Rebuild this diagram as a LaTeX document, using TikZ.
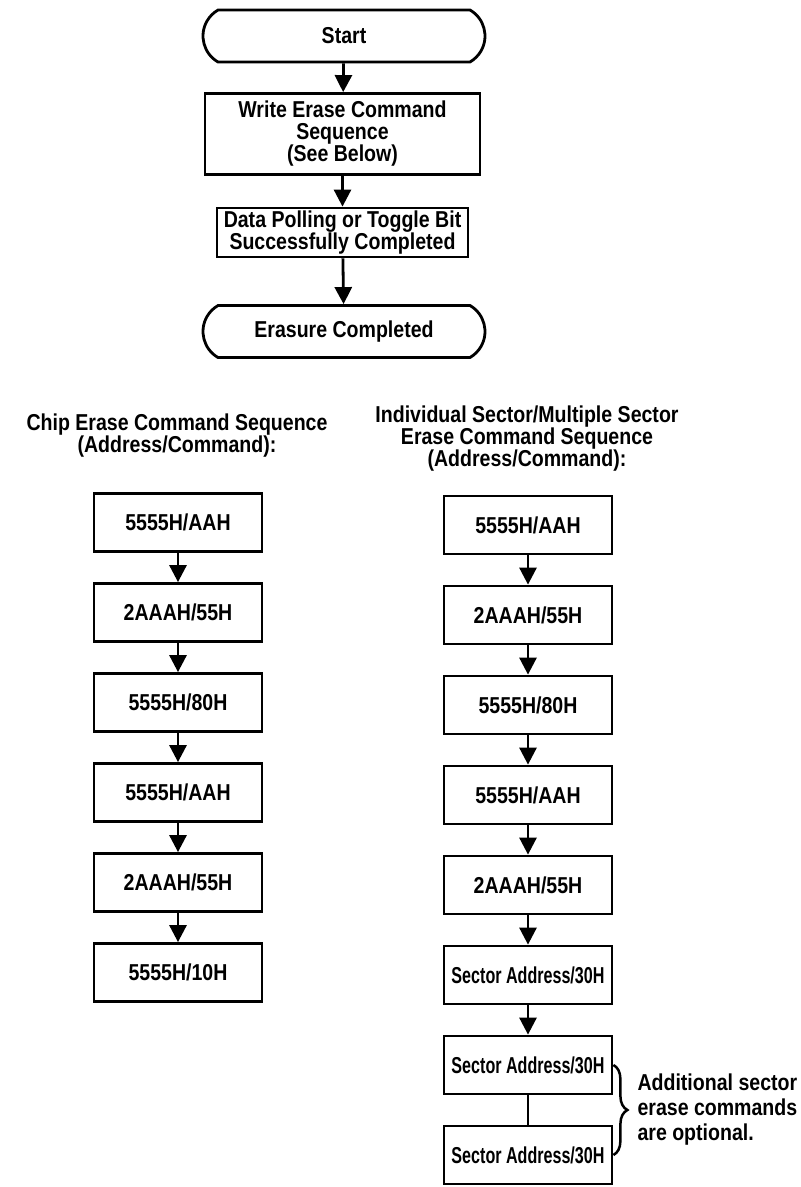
\documentclass[tikz,border=0pt]{standalone}
\usepackage{fontspec}
\setmainfont[FakeStretch=0.85]{Liberation Sans}
\newfontfamily\narrowfont[FakeStretch=0.7]{Liberation Sans}
\usetikzlibrary{shapes.misc,arrows.meta,decorations.pathreplacing}

\begin{document}
\begin{tikzpicture}[
    x=1pt, y=-1pt,
    every node/.style={font=\fontsize{23}{22}\selectfont\bfseries},
    terminal/.style={rounded rectangle, rounded rectangle arc length=120, draw, line width=2.8pt, minimum width=282pt, minimum height=52pt, inner sep=0pt},
    block/.style={rectangle, draw, line width=2.8pt, align=center, inner sep=0pt},
    cmd/.style={block, minimum width=168pt, minimum height=58pt},
    sector/.style={cmd, font=\narrowfont\fontsize{23}{22}\selectfont\bfseries},
    heading/.style={align=center},
    line/.style={draw, line width=2.8pt, -{Triangle[length=17pt,width=17pt]}},
    link/.style={draw, line width=2.8pt}
]
    \useasboundingbox (0,0) rectangle (801,1187);

    % main flow
    \node [terminal] (start) at (344,36) {Start};
    \node [block, minimum width=275pt, minimum height=81pt] (write) at (342.5,134) {Write Erase Command\\Sequence\\(See Below)};
    \node [block, minimum width=251pt, minimum height=49pt] (poll) at (342.5,232.5) {Data Polling or Toggle Bit\\Successfully Completed};
    \node [terminal] (done) at (344,331.5) {Erasure Completed};

    \draw [line] (start) -- (write);
    \draw [line] (write) -- (poll);
    \draw [line] (poll) -- (done);

    % headings
    \node [heading] (chiphead) at (177,436) {Chip Erase Command Sequence\\(Address/Command):};
    \node [heading] (sectorhead) at (527,439) {Individual Sector/Multiple Sector\\Erase Command Sequence\\(Address/Command):};

    % chip erase
    \node [cmd] (c1) at (178,522.5) {5555H/AAH};
    \node [cmd] (c2) at (178,612.5) {2AAAH/55H};
    \node [cmd] (c3) at (178,702.5) {5555H/80H};
    \node [cmd] (c4) at (178,792.5) {5555H/AAH};
    \node [cmd] (c5) at (178,882.5) {2AAAH/55H};
    \node [cmd] (c6) at (178,972.5) {5555H/10H};

    \draw [line] (c1) -- (c2);
    \draw [line] (c2) -- (c3);
    \draw [line] (c3) -- (c4);
    \draw [line] (c4) -- (c5);
    \draw [line] (c5) -- (c6);

    % sector erase
    \node [cmd] (s1) at (528,525) {5555H/AAH};
    \node [cmd] (s2) at (528,615) {2AAAH/55H};
    \node [cmd] (s3) at (528,705) {5555H/80H};
    \node [cmd] (s4) at (528,795) {5555H/AAH};
    \node [cmd] (s5) at (528,885) {2AAAH/55H};
    \node [sector] (s6) at (528,975) {Sector Address/30H};
    \node [sector] (s7) at (528,1065) {Sector Address/30H};
    \node [sector] (s8) at (528,1155) {Sector Address/30H};

    \draw [line] (s1) -- (s2);
    \draw [line] (s2) -- (s3);
    \draw [line] (s3) -- (s4);
    \draw [line] (s4) -- (s5);
    \draw [line] (s5) -- (s6);
    \draw [line] (s6) -- (s7);
    \draw [link] (s7) -- (s8);

    \draw [line width=2.5pt, decorate, decoration={brace, amplitude=14pt}] (s7.east) -- (s8.east);
    \node [align=left, anchor=west, font=\fontsize{23}{25}\selectfont\bfseries] (note) at (634,1110) {Additional sector\\erase commands\\are optional.};
\end{tikzpicture}
\end{document}
